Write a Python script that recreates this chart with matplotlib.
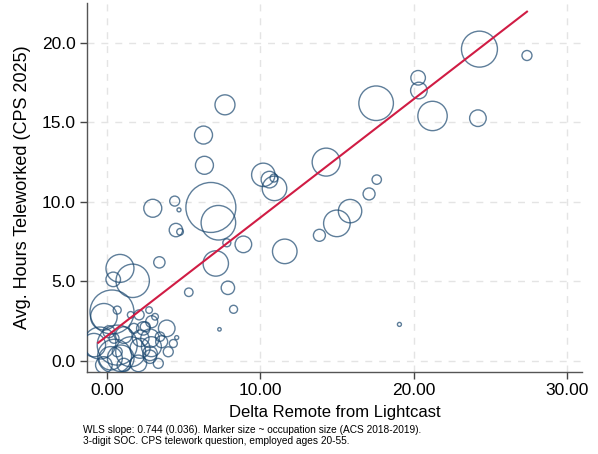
import numpy as np
import matplotlib
matplotlib.use('Agg')
import matplotlib.pyplot as plt

plt.rcParams['font.family'] = ['Liberation Sans', 'DejaVu Sans']

# Occupations: Lightcast delta remote (x), CPS hours teleworked (y), occupation size (relative)
delta_remote = [24.3, 27.4, 20.3, 20.35, 17.56, 21.24, 24.2, 7.7, 14.3, 10.2,
                10.6, 10.9, 10.93, 17.6, 17.1, 15.86, 15.0, 13.86, 6.36, 6.3,
                2.99, 4.42, 4.7, 6.78, 7.27, 4.5, 4.77, 7.82, 8.9, 7.1,
                3.42, 0.85, 0.41, 1.68, 5.34, 7.89, 11.6, 8.26, 7.34, 19.08,
                0.33, 2.92, 3.9, 4.55, 3.57, 2.81, 2.37, 4.0, 2.81, 3.35,
                2.05, 2.16, 3.14, 4.33, -0.2, -0.85, 0.67, 0.9, 1.55, 0.24,
                1.1, 2.2, 2.1, 0.67, 2.5, 0.13, 1.1, -0.2, 0.67, 0.46,
                1.76, 1.55, 2.75, 0.5, -0.46, 2.9, 3.46, 2.8]
hours_telework = [19.6, 19.2, 17.8, 17.0, 16.2, 15.4, 15.26, 16.1, 12.5, 11.7,
                  11.4, 11.5, 10.85, 11.4, 10.5, 9.42, 8.65, 7.9, 12.3, 14.2,
                  9.6, 10.05, 9.5, 9.65, 8.69, 8.23, 8.12, 7.43, 7.33, 6.13,
                  6.2, 5.82, 5.13, 5.04, 4.32, 4.6, 6.89, 3.25, 1.99, 2.3,
                  3.08, 2.47, 2.05, 1.47, 1.21, 1.43, 2.05, 0.58, 0.48, -0.15,
                  -0.15, 0.8, 2.78, 1.1, 2.78, 1.0, 1.0, 0.17, 0.58, 0.17,
                  1.63, 1.43, 2.9, 3.2, 2.15, 1.84, -0.25, -0.25, 0.58, 1.43,
                  2.05, 2.9, 3.2, 0.3, 1.13, 0.9, 1.53, 0.27]
occ_size = [324, 25, 53, 69, 299, 216, 69, 100, 196, 137,
            69, 16, 151, 22, 36, 137, 177, 36, 81, 81,
            81, 25, 4, 625, 299, 45, 11, 16, 69, 161,
            32, 196, 53, 279, 18, 45, 151, 16, 3, 4,
            484, 36, 69, 4, 36, 86, 45, 25, 53, 25,
            69, 100, 11, 16, 177, 137, 400, 177, 225, 137,
            69, 69, 25, 16, 25, 36, 45, 69, 25, 25,
            25, 11, 11, 289, 256, 100, 22, 45]

# WLS fit
wls_slope = 0.744
wls_intercept = 1.57

x = np.array(delta_remote)
y = np.array(hours_telework)
w = np.array(occ_size)

fig = plt.figure(figsize=(5.98, 4.54), dpi=100)
ax = fig.add_axes([0.1455, 0.1817, 0.828, 0.8117])

ax.scatter(x, y, s=w * 2.07, facecolors='none', edgecolors='#1a476f',
           linewidths=1.0, alpha=0.7, zorder=3)

fx = np.array([-0.57, x.max()])
ax.plot(fx, wls_intercept + wls_slope * fx, color='#d01c44', lw=1.5, zorder=4)

ax.set_xlim(-1.3, 31.0)
ax.set_ylim(-0.66, 22.5)
ax.set_xticks([0, 10, 20, 30])
ax.set_yticks([0, 5, 10, 15, 20])
ax.set_xticklabels(['%.2f' % v for v in [0, 10, 20, 30]])
ax.set_yticklabels(['%.1f' % v for v in [0, 5, 10, 15, 20]])
ax.tick_params(labelsize=12.5, length=5, width=1, color='#444444', pad=3)
ax.grid(True, color='#e4e4e4', linestyle=(0, (5, 5)), linewidth=1, zorder=0)
ax.set_axisbelow(True)

for s in ['top', 'right']:
    ax.spines[s].set_visible(False)
for s in ['left', 'bottom']:
    ax.spines[s].set_color('#555555')
    ax.spines[s].set_linewidth(1)

ax.set_xlabel('Delta Remote from Lightcast', fontsize=12, labelpad=5)
ax.set_ylabel('Avg. Hours Teleworked (CPS 2025)', fontsize=13, labelpad=8)

fig.text(0.139, 0.041, 'WLS slope: 0.744 (0.036). Marker size ~ occupation size (ACS 2018-2019).\n'
         '3-digit SOC. CPS telework question, employed ages 20-55.',
         fontsize=7.3, ha='left', va='center', linespacing=1.1)

fig.savefig('out.png', dpi=100)
